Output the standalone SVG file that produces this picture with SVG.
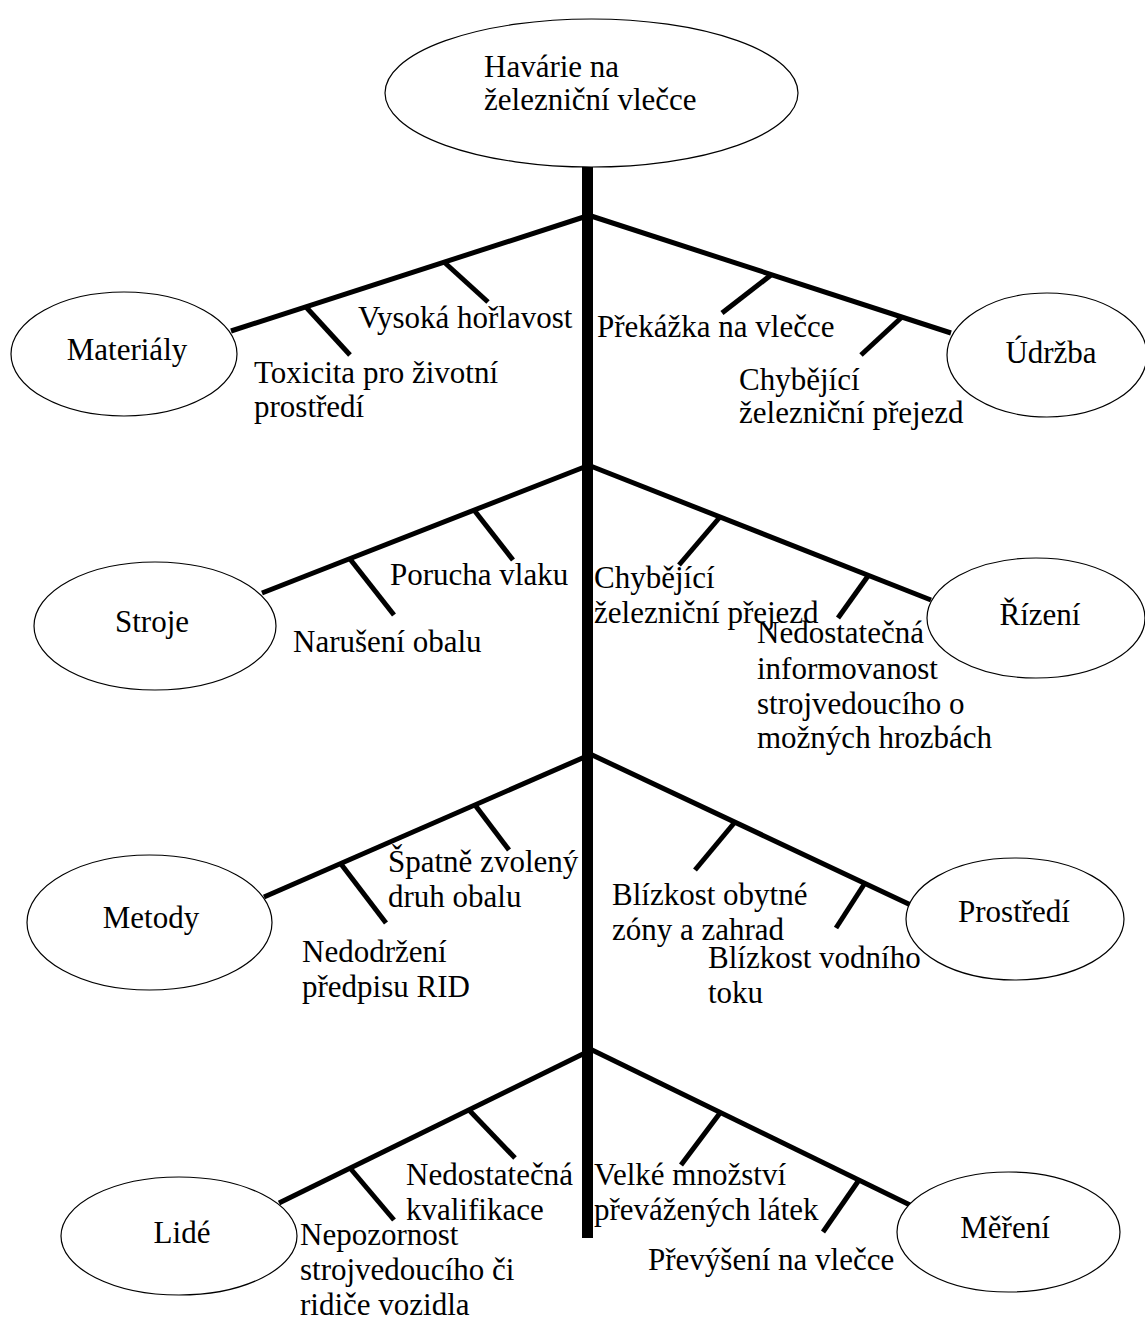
<svg xmlns="http://www.w3.org/2000/svg" width="1145" height="1320" viewBox="0 0 1145 1320">
<style>
  text { font-family: "Liberation Serif", "Times New Roman", serif; font-size: 31px; fill: #000; }
  .node ellipse { fill: #fff; stroke: #000; stroke-width: 1.2; }
  .c text { text-anchor: middle; }
  .branch { stroke: #000; stroke-width: 5; fill: none; }
  .tick { stroke: #000; stroke-width: 5; fill: none; }
</style>
<rect width="1145" height="1320" fill="#fff"/>
<g id="connectors">
  <rect id="spine" x="582" y="160" width="11" height="1078" fill="#000"/>
  <line class="branch" x1="587" y1="216" x2="231" y2="331"/>
  <line class="branch" x1="588" y1="215" x2="951" y2="333"/>
  <line class="branch" x1="587" y1="466" x2="262" y2="593"/>
  <line class="branch" x1="588" y1="465" x2="931" y2="600"/>
  <line class="branch" x1="587" y1="756" x2="264" y2="897"/>
  <line class="branch" x1="588" y1="753" x2="915" y2="907"/>
  <line class="branch" x1="587" y1="1052" x2="279" y2="1203"/>
  <line class="branch" x1="588" y1="1048" x2="910" y2="1205"/>
  <line class="tick" x1="444" y1="262" x2="488" y2="302"/>
  <line class="tick" x1="306" y1="307" x2="350" y2="355"/>
  <line class="tick" x1="771" y1="275" x2="722" y2="313"/>
  <line class="tick" x1="902" y1="317" x2="861" y2="355"/>
  <line class="tick" x1="474" y1="510" x2="513" y2="560"/>
  <line class="tick" x1="350" y1="559" x2="394" y2="615"/>
  <line class="tick" x1="720" y1="517" x2="679" y2="565"/>
  <line class="tick" x1="868" y1="576" x2="838" y2="618"/>
  <line class="tick" x1="475" y1="805" x2="509" y2="850"/>
  <line class="tick" x1="341" y1="864" x2="386" y2="923"/>
  <line class="tick" x1="735" y1="822" x2="695" y2="870"/>
  <line class="tick" x1="865" y1="883" x2="836" y2="928"/>
  <line class="tick" x1="469" y1="1110" x2="515" y2="1158"/>
  <line class="tick" x1="350" y1="1168" x2="394" y2="1220"/>
  <line class="tick" x1="720" y1="1113" x2="681" y2="1165"/>
  <line class="tick" x1="859" y1="1180" x2="823" y2="1232"/>
</g>
<g id="node-havarie" class="node">
  <ellipse cx="591.5" cy="93" rx="206.5" ry="74"/>
  <text x="484" y="77">Havárie na</text>
  <text x="484" y="110">železniční vlečce</text>
</g>
<g id="node-materialy" class="node c">
  <ellipse cx="124" cy="354" rx="113" ry="62"/>
  <text x="127" y="360">Materiály</text>
</g>
<g id="node-udrzba" class="node c">
  <ellipse cx="1047" cy="355" rx="100" ry="62"/>
  <text x="1051" y="363">Údržba</text>
</g>
<g id="node-stroje" class="node c">
  <ellipse cx="155" cy="626" rx="121" ry="64"/>
  <text x="152" y="632">Stroje</text>
</g>
<g id="node-rizeni" class="node c">
  <ellipse cx="1036" cy="618" rx="109" ry="60"/>
  <text x="1040" y="625">Řízení</text>
</g>
<g id="node-metody" class="node c">
  <ellipse cx="149.5" cy="922.5" rx="122.5" ry="67.5"/>
  <text x="151" y="928">Metody</text>
</g>
<g id="node-prostredi" class="node c">
  <ellipse cx="1015" cy="919" rx="109" ry="61"/>
  <text x="1014" y="922">Prostředí</text>
</g>
<g id="node-lide" class="node c">
  <ellipse cx="179" cy="1236" rx="118" ry="59"/>
  <text x="182" y="1243">Lidé</text>
</g>
<g id="node-mereni" class="node c">
  <ellipse cx="1008.5" cy="1232" rx="111.5" ry="60"/>
  <text x="1005" y="1238">Měření</text>
</g>
<g id="labels">
  <text x="358" y="328">Vysoká hořlavost</text>
  <text x="254" y="383">Toxicita pro životní</text>
  <text x="254" y="417">prostředí</text>
  <text x="597" y="337">Překážka na vlečce</text>
  <text x="739" y="390">Chybějící</text>
  <text x="739" y="423">železniční přejezd</text>
  <text x="390" y="585">Porucha vlaku</text>
  <text x="293" y="652">Narušení obalu</text>
  <text x="594" y="588">Chybějící</text>
  <text x="594" y="623">železniční přejezd</text>
  <text x="757" y="643">Nedostatečná</text>
  <text x="757" y="679">informovanost</text>
  <text x="757" y="714">strojvedoucího o</text>
  <text x="757" y="748">možných hrozbách</text>
  <text x="388" y="872">Špatně zvolený</text>
  <text x="388" y="907">druh obalu</text>
  <text x="302" y="962">Nedodržení</text>
  <text x="302" y="997">předpisu RID</text>
  <text x="612" y="905">Blízkost obytné</text>
  <text x="612" y="940">zóny a zahrad</text>
  <text x="708" y="968">Blízkost vodního</text>
  <text x="708" y="1003">toku</text>
  <text x="406" y="1185">Nedostatečná</text>
  <text x="406" y="1220">kvalifikace</text>
  <text x="300" y="1245">Nepozornost</text>
  <text x="300" y="1280">strojvedoucího či</text>
  <text x="300" y="1315">ridiče vozidla</text>
  <text x="594" y="1185">Velké množství</text>
  <text x="594" y="1220">převážených látek</text>
  <text x="648" y="1270">Převýšení na vlečce</text>
</g>
</svg>
